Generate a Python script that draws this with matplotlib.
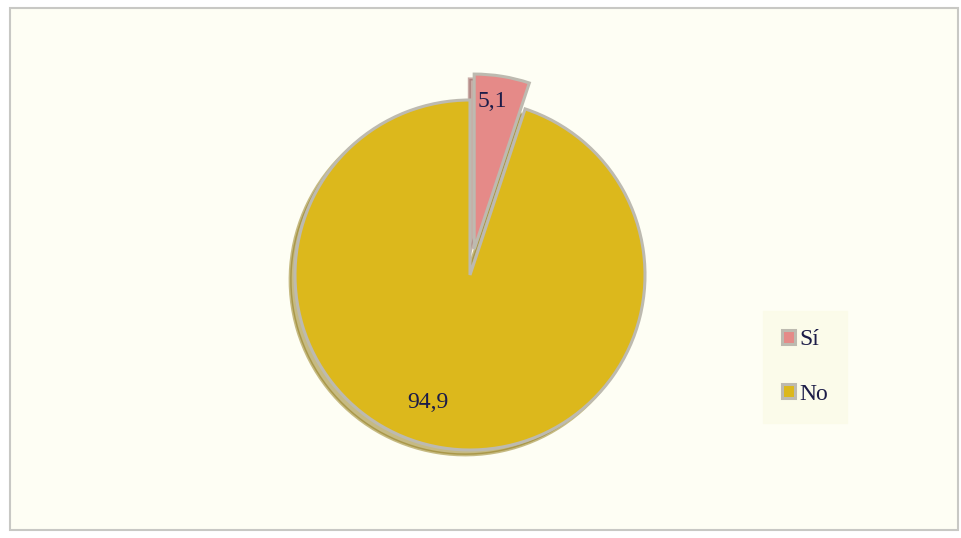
import matplotlib
matplotlib.use("Agg")
import matplotlib.pyplot as plt
from matplotlib.patches import Rectangle

labels = ["Sí", "No"]
values = [5.1, 94.9]
value_text = ["5,1", "94,9"]
colors = ["#e58a88", "#dcb81c"]

fig = plt.figure(figsize=(9.61, 5.38), dpi=100)
fig.patch.set_facecolor("white")

# cream panel with grey frame
fig.patches.append(Rectangle((10 / 961, 8 / 538), 948 / 961, 522 / 538, transform=fig.transFigure,
                             facecolor="#fefef4", edgecolor="#c8c8c4", linewidth=1.5, zorder=-5))

r_px = 175.0
half = 200.0
cx, cy = 470, 275
ax = fig.add_axes([(cx - half) / 961, (538 - cy - half) / 538, 2 * half / 961, 2 * half / 538])
ax.set_zorder(2)
lim = half / r_px

wedges, texts = ax.pie(values, colors=colors, startangle=90, counterclock=False,
                       explode=[0.15, 0], radius=1.0,
                       wedgeprops=dict(edgecolor="#bdbab0", linewidth=2.2),
                       shadow=dict(ox=-0.02, oy=-0.02, shade=0.35),
                       frame=True)
ax.set_xlim(-lim, lim)
ax.set_ylim(-lim, lim)
ax.axis("off")

# value labels
lab_pos = [(0.13, 0.99), (-0.24, -0.73)]
for t, (x, y) in zip(value_text, lab_pos):
    ax.text(x, y, t, ha="center", va="center", fontsize=17, color="#1c1c48",
            family="Liberation Serif")

leg = fig.legend(wedges, labels, loc="center", bbox_to_anchor=(805 / 961, 1 - 367 / 538),
                 prop={"family": "Liberation Serif", "size": 17}, frameon=True,
                 handlelength=0.55, handleheight=0.55, handletextpad=0.15,
                 labelspacing=1.4, borderpad=0.8, borderaxespad=0, fancybox=False)
leg.get_frame().set_facecolor("#fbfbe8")
leg.get_frame().set_edgecolor("#fbfbe8")
for txt in leg.get_texts():
    txt.set_color("#1c1c48")

fig.savefig("out.png", dpi=100, facecolor=fig.get_facecolor())
